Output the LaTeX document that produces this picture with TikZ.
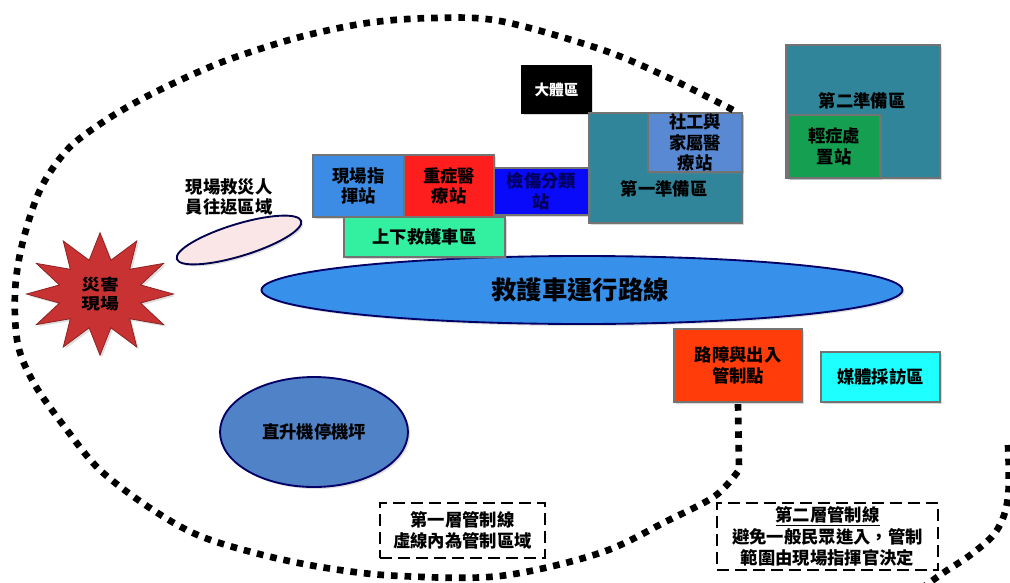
\documentclass[tikz,border=0pt]{standalone}
\usepackage{fontspec}
\newfontfamily\cjk{Noto Sans CJK TC}
\usetikzlibrary{shapes.geometric,shadows}
\definecolor{tealzone}{RGB}{49,133,155}
\definecolor{socialc}{RGB}{88,137,210}
\definecolor{cmdc}{RGB}{60,140,230}
\definecolor{redc}{RGB}{255,30,30}
\definecolor{triagec}{RGB}{10,10,250}
\definecolor{mintc}{RGB}{50,240,160}
\definecolor{greenc}{RGB}{20,160,80}
\definecolor{orangec}{RGB}{255,60,10}
\definecolor{cyanc}{RGB}{30,255,255}
\definecolor{routec}{RGB}{55,145,235}
\definecolor{heloc}{RGB}{80,130,200}
\definecolor{pinkc}{RGB}{250,230,230}
\definecolor{starc}{RGB}{200,50,50}
\definecolor{navyc}{RGB}{0,0,90}
\tikzset{
  sz/.style 2 args={minimum width=#1*0.75pt,minimum height=#2*0.75pt},
  txt/.style={font=\cjk\bfseries\fontsize{13}{15.5}\selectfont, align=center, inner sep=0pt},
  zone/.style={txt, rectangle, draw=black!55, line width=1.4pt,
    drop shadow={opacity=0.3, shadow xshift=1.5pt, shadow yshift=-1.5pt}},
  oval/.style={txt, ellipse, draw=black!60!blue, line width=1.4pt,
    drop shadow={opacity=0.25, shadow xshift=1.5pt, shadow yshift=-1.5pt}},
  ctrlone/.style={line width=5pt, dash pattern=on 5pt off 5.2pt},
  legendbox/.style={txt, rectangle, draw, line width=2.1pt, dash pattern=on 9pt off 4.5pt},
}
\begin{document}
\begin{tikzpicture}[x=0.75pt,y=-0.75pt]
\useasboundingbox (0,0) rectangle (1010,582);

% ambulance route
\node[oval, fill=routec, sz={641}{68}] (route) at (582,290) {};
\node[txt, font=\cjk\bfseries\fontsize{19}{22}\selectfont] (routet) at (580,290) {救護車運行路線};

% helicopter pad
\node[oval, fill=heloc, sz={188}{110}] (helo) at (314,432) {直升機停機坪};

% rescue personnel shuttle area
\node[oval, fill=pinkc, draw=black!70!blue, sz={130}{32}, rotate=17] (shuttle) at (239,240) {};
\node[txt] (shuttlet) at (229,197) {現場救災人\\員往返區域};

% disaster site
\node[star, star points=12, star point ratio=1.75, fill=starc, draw=starc!70!black,
  line width=0.6pt, minimum size=136*0.75pt, inner sep=0pt, txt, xscale=1.08, yscale=0.9,
  drop shadow={opacity=0.25, shadow xshift=1.5pt, shadow yshift=-1.5pt}] (site) at (100,294) {災害\\現場};

% body area
\node[zone, fill=black, draw=black, text=white, sz={69}{47},
  font=\cjk\bfseries\fontsize{11}{13}\selectfont] (body) at (556.5,89.5) {大體區};

% first staging area
\node[zone, fill=tealzone, sz={153}{110}] (prep1) at (665.5,168) {};
\node[txt] (prep1t) at (664,189) {第一準備區};
\node[zone, fill=socialc, sz={94}{59}] (social) at (695,142.5) {社工與\\家屬醫\\療站};

% second staging area
\node[zone, fill=tealzone, sz={154}{133}] (prep2) at (863,111.5) {};
\node[txt] (prep2t) at (862,101) {第二準備區};
\node[zone, fill=greenc, sz={92}{63}] (minor) at (834,146.5) {輕症處\\置站};

% command / treatment / triage
\node[zone, fill=cmdc, sz={91}{62}] (cmd) at (358.5,186) {現場指\\揮站};
\node[zone, fill=redc, sz={90}{62}] (severe) at (449,186) {重症醫\\療站};
\node[zone, fill=triagec, text=navyc, sz={95}{47}] (triage) at (541.5,191.5) {檢傷分類\\站};
\node[zone, fill=mintc, sz={161}{40}] (ambu) at (424.5,237) {上下救護車區};

% roadblock and media
\node[zone, fill=orangec, sz={128}{73}] (road) at (738,365.5) {路障與出入\\管制點};
\node[zone, fill=cyanc, sz={119}{50}] (media) at (880.5,377) {媒體採訪區};

% first control line
\draw[ctrlone] plot[smooth, tension=0.55] coordinates {(733,110) (667,77) (600,49) (500,21) (433,18) (367,23) (300,37) (233,58) (187,77) (140,100) (100,124) (67,150) (40,190) (22,245) (15,293) (18,345) (35,385) (67,430) (100,470) (150,508) (200,536) (267,556) (333,569) (400,576) (500,576) (600,553) (667,521) (715,496) (739,470)} -- (road.south);

% second control line
\coordinate (c2a) at (1008,445);
\coordinate (c2b) at (925,586);
\draw[ctrlone] plot[smooth, tension=0.6] coordinates {(c2a) (1008,497) (997,530) (973,553) (943,573) (c2b)};

% legend boxes
\node[legendbox, sz={165}{55}] (leg1) at (462.5,530.5) {第一層管制線\\虛線內為管制區域};
\node[legendbox, sz={221}{67}, font=\cjk\bfseries\fontsize{13}{16}\selectfont] (leg2) at (827.5,536.5) {\underline{第二層管制線}\\避免一般民眾進入，管制\\範圍由現場指揮官決定};
\end{tikzpicture}
\end{document}
